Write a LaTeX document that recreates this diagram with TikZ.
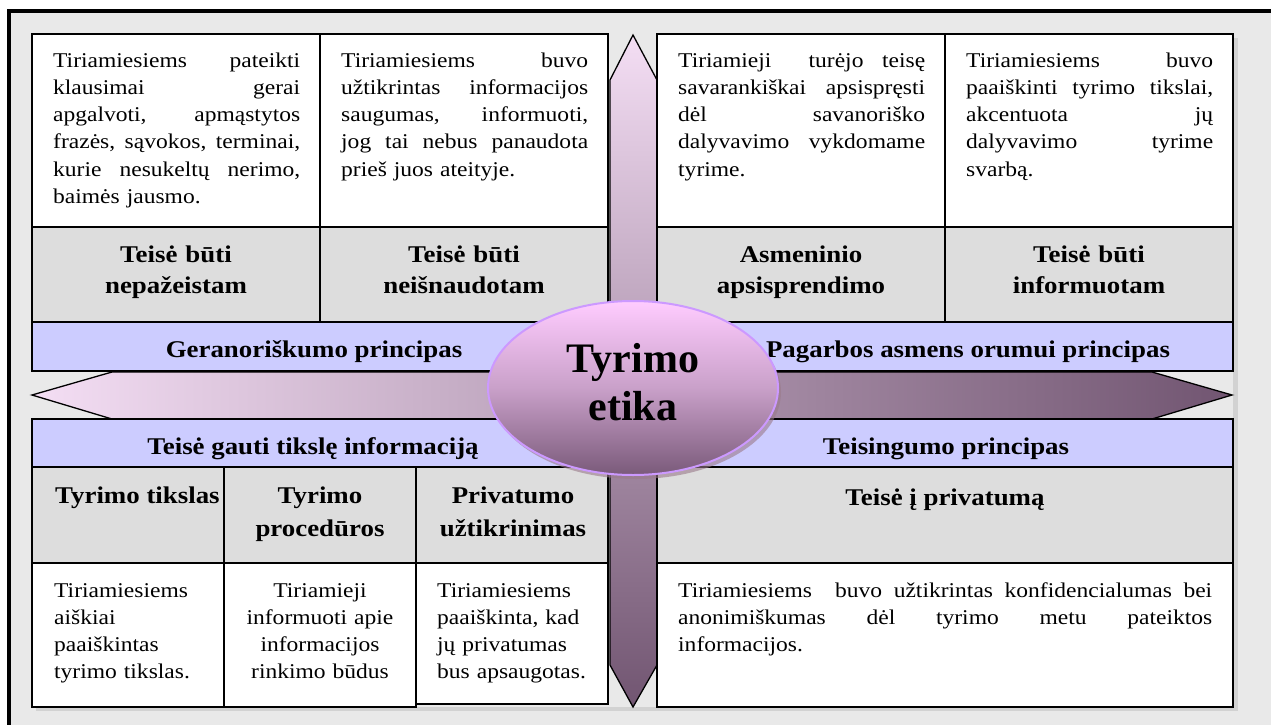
\documentclass[tikz,border=0pt]{standalone}
\usepackage{fontspec}
\setmainfont{Liberation Serif}[FakeStretch=1.12]
\newfontfamily\ovalfont{Liberation Serif}
\usetikzlibrary{shapes.geometric}

\definecolor{pagebg}{HTML}{E9E9E9}
\definecolor{headgray}{HTML}{DDDDDD}
\definecolor{bandblue}{HTML}{CCCCFF}
\definecolor{arrowlight}{HTML}{F4DEF4}
\definecolor{arrowdark}{HTML}{715571}
\definecolor{ovaltop}{HTML}{FFCCFF}
\definecolor{ovalmid}{HTML}{C9A0C9}
\definecolor{ovalbot}{HTML}{7A5A7A}
\definecolor{ovalrim}{HTML}{CC99FF}
\definecolor{ovalshadow}{HTML}{9A7A8A}
\definecolor{tableshadow}{HTML}{D2D2D2}

\newcommand{\bodysize}{\fontsize{21}{27.3}\selectfont}
\newcommand{\headsize}{\fontsize{24}{31}\selectfont\bfseries}
\newcommand{\headsizeb}{\fontsize{24}{33}\selectfont\bfseries}
% one fully justified line of a paragraph, as wide as \jw
\newcommand{\jw}{247pt}
\newcommand{\jl}[1]{\leavevmode\hbox to \jw{\spaceskip=0.25em plus 1fil\relax #1}\\}

\begin{document}
\begin{tikzpicture}[x=1pt,y=-1pt,
  cell/.style={draw=black, line width=1.3pt},
  whitecell/.style={cell, fill=white},
  graycell/.style={cell, fill=headgray},
  band/.style={cell, fill=bandblue},
  bodytext/.style={anchor=base west, inner sep=0pt, text width=#1, align=left, font=\bodysize,
    execute at begin node={\renewcommand{\jw}{#1}}},
  bodytext/.default=247pt,
  centertext/.style={anchor=base, inner sep=0pt, text width=#1, align=center, font=\bodysize},
  headtext/.style={anchor=base, inner sep=0pt, text width=270pt, align=center, font=\headsize},
  headtextb/.style={anchor=base, inner sep=0pt, text width=185pt, align=center, font=\headsizeb},
  bandtext/.style={anchor=base, inner sep=0pt, font=\headsize},
  arrowedge/.style={draw=black, line width=1.3pt, line join=miter}
]
\useasboundingbox (0,0) rectangle (1271,725);

% page and frame
\fill[white] (0,0) rectangle (1271,725);
\fill[pagebg] (9,11) rectangle (1271,725);
\draw[line width=3.5pt] (9,725) -- (9,11) -- (1271,11);

% soft shadows along the right and lower edges of the tables
\fill[tableshadow] (1233,38) rectangle (1238,711);
\fill[tableshadow] (36,707) rectangle (1238,711);

% horizontal double arrow
\shade[left color=arrowlight, right color=arrowdark]
  (32,395) -- (112,372) -- (1152,372) -- (1232,395) -- (1152,419) -- (112,419) -- cycle;
\draw[arrowedge]
  (32,395) -- (112,372) -- (1152,372) -- (1232,395) -- (1152,419) -- (112,419) -- cycle;

% vertical double arrow
\shade[top color=arrowlight, bottom color=arrowdark]
  (633,35) -- (657,80) -- (657,665) -- (633,707) -- (610,665) -- (610,80) -- cycle;
\draw[arrowedge]
  (633,35) -- (657,80) -- (657,665) -- (633,707) -- (610,665) -- (610,80) -- cycle;

% upper left block
\path[whitecell] (32,34) rectangle (320,227);
\path[whitecell] (320,34) rectangle (608,227);
\path[graycell] (32,227) rectangle (320,322);
\path[graycell] (320,227) rectangle (608,322);
\path[band] (32,322) rectangle (608,371);

% upper right block
\path[whitecell] (657,34) rectangle (945,227);
\path[whitecell] (945,34) rectangle (1233,227);
\path[graycell] (657,227) rectangle (945,322);
\path[graycell] (945,227) rectangle (1233,322);
\path[band] (657,322) rectangle (1233,371);

% lower left block
\path[band] (32,419) rectangle (608,467);
\path[graycell] (32,467) rectangle (224,563);
\path[graycell] (224,467) rectangle (416,563);
\path[graycell] (416,467) rectangle (608,563);
\path[whitecell] (32,563) rectangle (224,707);
\path[whitecell] (224,563) rectangle (416,707);
\path[whitecell] (416,563) rectangle (608,704);

% lower right block
\path[band] (657,419) rectangle (1233,467);
\path[graycell] (657,467) rectangle (1233,563);
\path[whitecell] (657,563) rectangle (1233,707);

% descriptions, upper row
\node[bodytext] (d1) at (53,67) {\jl{Tiriamiesiems pateikti}\jl{klausimai gerai}\jl{apgalvoti, apmąstytos}\jl{frazės, sąvokos, terminai,}\jl{kurie nesukeltų nerimo,}baimės jausmo.};
\node[bodytext] (d2) at (341,67) {\jl{Tiriamiesiems buvo}\jl{užtikrintas informacijos}\jl{saugumas, informuoti,}\jl{jog tai nebus panaudota}prieš juos ateityje.};
\node[bodytext] (d3) at (678,67) {\jl{Tiriamieji\ \ turėjo teisę}\jl{savarankiškai apsispręsti}\jl{dėl savanoriško}\jl{dalyvavimo vykdomame}tyrime.};
\node[bodytext] (d4) at (966,67) {\jl{Tiriamiesiems buvo}\jl{paaiškinti tyrimo tikslai,}\jl{akcentuota jų}\jl{dalyvavimo tyrime}svarbą.};

% rights, upper row
\node[headtext] (r1) at (176,262) {Teisė būti\\nepažeistam};
\node[headtext] (r2) at (464,262) {Teisė būti\\neišnaudotam};
\node[headtext] (r3) at (801,262) {Asmeninio\\apsisprendimo};
\node[headtext] (r4) at (1089,262) {Teisė būti\\informuotam};

% principles
\node[bandtext] (p1) at (314,357) {Geranoriškumo principas};
\node[bandtext] (p2) at (968,357) {Pagarbos asmens orumui principas};
\node[bandtext] (p3) at (313,454) {Teisė gauti tikslę informaciją};
\node[bandtext] (p4) at (946,454) {Teisingumo principas};

% rights, lower row
\node[anchor=base west, inner sep=0pt, font=\headsizeb] (r5) at (55,503) {Tyrimo tikslas};
\node[headtextb] (r6) at (320,503) {Tyrimo\\procedūros};
\node[headtextb] (r7) at (513,503) {Privatumo\\užtikrinimas};
\node[bandtext] (r8) at (945,505) {Teisė į privatumą};

% descriptions, lower row
\node[bodytext=165pt] (d5) at (54,597) {Tiriamiesiems\\aiškiai\\paaiškintas\\tyrimo tikslas.};
\node[centertext=185pt] (d6) at (320,597) {Tiriamieji\\informuoti apie\\informacijos\\rinkimo būdus};
\node[bodytext=165pt] (d7) at (437,597) {Tiriamiesiems\\paaiškinta, kad\\jų privatumas\\bus apsaugotas.};
\node[bodytext=534pt] (d8) at (678,597) {\jl{Tiriamiesiems\ \ buvo užtikrintas konfidencialumas bei}\jl{anonimiškumas dėl tyrimo metu pateiktos}informacijos.};

% central oval
\fill[ovalshadow, opacity=0.6] (636,392) ellipse [x radius=145pt, y radius=87pt];
\node[ellipse, draw=ovalrim, line width=2pt, minimum width=290pt, minimum height=174pt,
      inner sep=0pt, top color=ovaltop, bottom color=ovalbot, middle color=ovalmid] (oval) at (633,388) {};
\node[anchor=base, inner sep=0pt, text width=250pt, align=center,
      font=\ovalfont\bfseries\fontsize{42}{48}\selectfont] (title) at (633,372) {Tyrimo\\etika};
\end{tikzpicture}
\end{document}
